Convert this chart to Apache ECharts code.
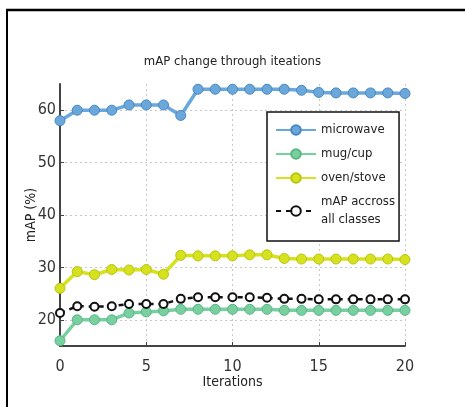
<!DOCTYPE html>
<html>
<head>
<meta charset="utf-8">
<script src="https://cdn.jsdelivr.net/npm/echarts@6/dist/echarts.min.js"></script>
<style>html,body{margin:0;padding:0;background:#fff;}#c{width:465px;height:407px;}</style>
</head>
<body>
<div id="c"></div>
<script>
const iterations = [0,1,2,3,4,5,6,7,8,9,10,11,12,13,14,15,16,17,18,19,20];
const microwave = [58, 60, 60, 60, 61, 61, 61, 59, 64, 64, 64, 64, 64, 64, 63.8, 63.4, 63.3, 63.3, 63.3, 63.3, 63.2];
const mugCup = [16, 20, 20, 20, 21.3, 21.5, 21.7, 22, 22, 22, 22, 22, 22, 21.8, 21.8, 21.8, 21.8, 21.8, 21.8, 21.8, 21.8];
const ovenStove = [26, 29.2, 28.6, 29.6, 29.5, 29.6, 28.7, 32.3, 32.2, 32.2, 32.2, 32.4, 32.4, 31.7, 31.6, 31.6, 31.6, 31.6, 31.6, 31.6, 31.5];
const mapAll = [21.3, 22.6, 22.5, 22.6, 23, 23, 23, 24, 24.3, 24.3, 24.3, 24.3, 24.2, 24, 24, 23.9, 23.9, 23.9, 23.9, 23.9, 23.9];
const yTicks = [20, 30, 40, 50, 60];
const seriesNames = ['microwave', 'mug/cup', 'oven/stove', 'mAP accross\nall classes'];

const FONT = '"DejaVu Sans Condensed", "Liberation Sans Narrow", "Liberation Sans", sans-serif';
const pair = (arr) => iterations.map((x, i) => [x, arr[i]]);

const chart = echarts.init(document.getElementById('c'), null, {renderer: 'canvas'});
const lineSeries = (name, data, color, border) => ({
  name, type: 'line', data: pair(data), symbol: 'circle', symbolSize: 10,
  lineStyle: {color, width: 3.5},
  itemStyle: {color, borderColor: border, borderWidth: 1},
  emphasis: {disabled: true}, animation: false
});
chart.setOption({
  backgroundColor: '#ffffff',
  animation: false,
  title: {
    text: 'mAP change through iteations', left: 'center', top: 50,
    textStyle: {fontFamily: FONT, fontSize: 13, fontWeight: 'normal', color: '#222'}
  },
  grid: {left: 60, right: 60, top: 84, bottom: 61},
  legend: {
    orient: 'vertical', left: 267, top: 112,
    padding: [9, 4, 12, 8], itemGap: 6, itemWidth: 40, itemHeight: 12,
    itemTextGap: 4,
    backgroundColor: '#fff', borderColor: '#111', borderWidth: 1.5,
    textStyle: {fontFamily: FONT, fontSize: 13, color: '#222', lineHeight: 18},
    data: seriesNames
  },
  xAxis: {
    type: 'value', min: 0, max: 20, interval: 5,
    name: 'Iterations', nameLocation: 'middle', nameGap: 29, nameMoveOverlap: false,
    nameTextStyle: {fontFamily: FONT, fontSize: 14, color: '#222'},
    axisLine: {lineStyle: {color: '#444', width: 2}},
    axisTick: {inside: true, length: 4, lineStyle: {color: '#444'}},
    axisLabel: {fontFamily: FONT, fontSize: 16, color: '#333', margin: 13},
    splitLine: {show: true, lineStyle: {color: '#c8c8c8', type: [2, 3], width: 1}}
  },
  yAxis: {
    type: 'value', min: 15, max: 65,
    name: 'mAP (%)', nameLocation: 'middle', nameGap: 22, nameRotate: 90, nameMoveOverlap: false,
    nameTextStyle: {fontFamily: FONT, fontSize: 14, color: '#222'},
    axisLine: {show: true, lineStyle: {color: '#444', width: 2}},
    axisTick: {show: true, inside: true, length: 4, customValues: yTicks, lineStyle: {color: '#444'}},
    axisLabel: {fontFamily: FONT, fontSize: 16, color: '#333', margin: 4, customValues: yTicks},
    splitLine: {show: true, lineStyle: {color: '#c8c8c8', type: [2, 3], width: 1}}
  },
  graphic: [
    {type: 'line', shape: {x1: 6, y1: 10, x2: 465, y2: 10}, style: {stroke: '#000', lineWidth: 2.5}, z: 100},
    {type: 'line', shape: {x1: 7, y1: 10, x2: 7, y2: 407}, style: {stroke: '#000', lineWidth: 2}, z: 100}
  ],
  series: [
    lineSeries(seriesNames[0], microwave, '#6aa8dc', '#4a86c0'),
    lineSeries(seriesNames[1], mugCup, '#78d0a0', '#5ab584'),
    lineSeries(seriesNames[2], ovenStove, '#d6e21e', '#b9c412'),
    {
      name: seriesNames[3], type: 'line', data: pair(mapAll), symbol: 'emptyCircle', symbolSize: 8,
      lineStyle: {color: '#111', width: 2.5, type: [5, 5]},
      itemStyle: {color: '#111', borderColor: '#111', borderWidth: 2.5},
      emphasis: {disabled: true}, z: 3
    }
  ]
});
</script>
</body>
</html>
